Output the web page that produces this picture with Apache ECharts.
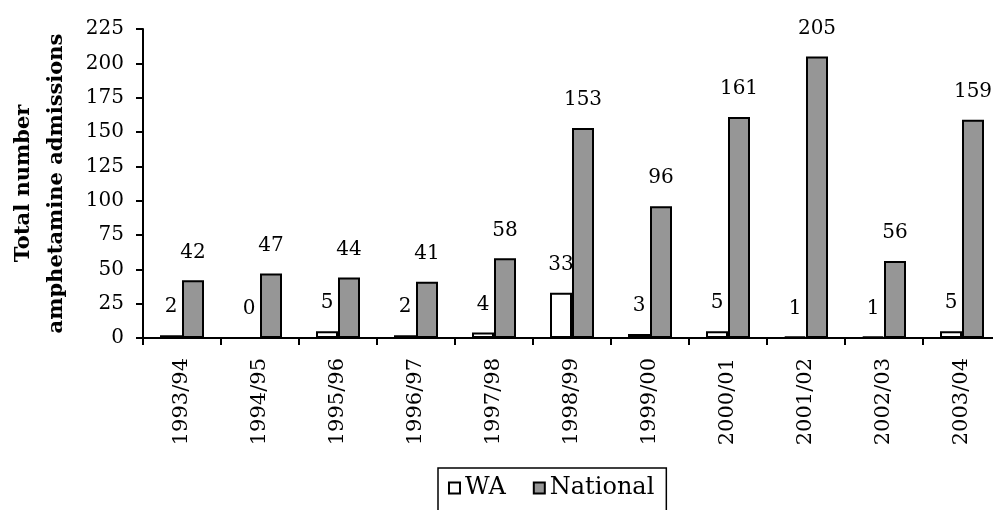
<!DOCTYPE html>
<html>
<head>
<meta charset="utf-8">
<script src="https://cdn.jsdelivr.net/npm/echarts@6/dist/echarts.min.js"></script>
<style>
html,body{margin:0;padding:0;background:#fff;}
#chart{width:993px;height:510px;}
</style>
</head>
<body>
<div id="chart"></div>
<script>
var categories = ['1993/94','1994/95','1995/96','1996/97','1997/98','1998/99','1999/00','2000/01','2001/02','2002/03','2003/04'];
var waValues = [2, 0, 5, 2, 4, 33, 3, 5, 1, 1, 5];
var nationalValues = [42, 47, 44, 41, 58, 153, 96, 161, 205, 56, 159];
var yTicks = {min: 0, max: 225, interval: 25};
var seriesNames = ['WA', 'National'];
var yTitle = 'Total number\namphetamine admissions';

var FONT = 'DejaVu Serif';
var chart = echarts.init(document.getElementById('chart'), null, {renderer: 'canvas'});
var labelStyle = {show: true, position: 'top', distance: 18, color: '#000', fontFamily: FONT, fontSize: 20};
chart.setOption({
  animation: false,
  backgroundColor: '#fff',
  grid: {left: 143, top: 29, width: 858, height: 309, containLabel: false, outerBoundsMode: 'none'},
  legend: {
    data: seriesNames,
    left: 438, top: 468,
    orient: 'horizontal',
    itemWidth: 11, itemHeight: 11, itemGap: 27,
    padding: [8, 12, 12, 10],
    borderColor: '#000', borderWidth: 1.5,
    backgroundColor: '#fff',
    textStyle: {fontFamily: FONT, fontSize: 24, color: '#000'},
    icon: 'rect'
  },
  xAxis: {
    type: 'category',
    data: categories,
    boundaryGap: true,
    axisLine: {lineStyle: {color: '#000', width: 2}},
    axisTick: {show: true, length: 7, lineStyle: {color: '#000', width: 2}},
    axisLabel: {rotate: 90, margin: 20, color: '#000', fontFamily: FONT, fontSize: 21},
    splitLine: {show: false}
  },
  yAxis: {
    type: 'value',
    min: yTicks.min, max: yTicks.max, interval: yTicks.interval,
    name: yTitle,
    nameLocation: 'middle',
    nameGap: 70,
    nameTextStyle: {fontFamily: FONT, fontWeight: 'bold', fontSize: 21, color: '#000', lineHeight: 33, align: 'center'},
    axisLine: {show: true, lineStyle: {color: '#000', width: 2}},
    axisTick: {show: true, length: 7, lineStyle: {color: '#000', width: 2}},
    axisLabel: {margin: 19, color: '#000', fontFamily: FONT, fontSize: 20},
    splitLine: {show: false}
  },
  series: [
    {
      name: seriesNames[0], type: 'bar', data: waValues,
      barWidth: 22, barGap: '0%',
      itemStyle: {color: '#fff', borderColor: '#000', borderWidth: 2},
      label: labelStyle
    },
    {
      name: seriesNames[1], type: 'bar', data: nationalValues,
      barWidth: 22, barGap: '0%',
      itemStyle: {color: '#969696', borderColor: '#000', borderWidth: 2},
      label: labelStyle
    }
  ]
});
</script>
</body>
</html>
